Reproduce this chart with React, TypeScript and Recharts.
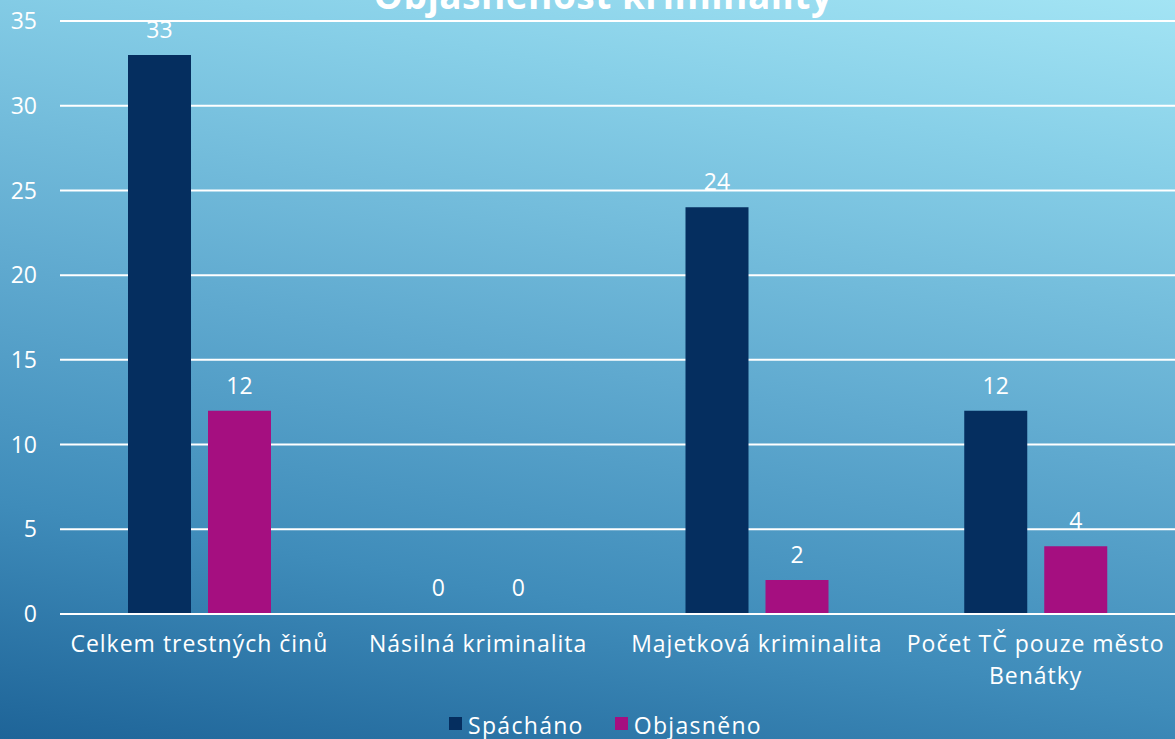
import React from "react";
import {
  BarChart,
  Bar,
  XAxis,
  YAxis,
  CartesianGrid,
  Legend,
  LabelList,
  Rectangle,
} from "recharts";

const categories = [
  "Celkem trestných činů",
  "Násilná kriminalita",
  "Majetková kriminalita",
  "Počet TČ pouze město Benátky",
];
const spachano = [33, 0, 24, 12];
const objasneno = [12, 0, 2, 4];
const yTicks = [0, 5, 10, 15, 20, 25, 30, 35];

const series = [
  { key: "spachano", name: "Spácháno", color: "#052e5f" },
  { key: "objasneno", name: "Objasněno", color: "#a50f80" },
];

const data = categories.map((name, i) => ({
  name,
  spachano: spachano[i],
  objasneno: objasneno[i],
}));

const FONT = "'Open Sans', sans-serif";
const TICK_SIZE = 23;
const TICK_SPACING = 1;

let ctx: CanvasRenderingContext2D | null = null;
function textWidth(s: string) {
  if (!ctx) ctx = document.createElement("canvas").getContext("2d");
  if (!ctx) return s.length * 12;
  ctx.font = `${TICK_SIZE}px ${FONT}`;
  return ctx.measureText(s).width + s.length * TICK_SPACING;
}

function wrap(label: string, maxWidth: number) {
  const lines: string[] = [];
  let cur = "";
  for (const w of label.split(" ")) {
    const next = cur ? cur + " " + w : w;
    if (cur && textWidth(next) > maxWidth) {
      lines.push(cur);
      cur = w;
    } else {
      cur = next;
    }
  }
  if (cur) lines.push(cur);
  return lines;
}

const CategoryTick = (props: any) => {
  const { x, y, payload } = props;
  const lines = wrap(String(payload.value), 272);
  return (
    <text
      x={x}
      y={y}
      textAnchor="middle"
      fill="#ffffff"
      fontSize={TICK_SIZE}
      letterSpacing={TICK_SPACING}
      fontFamily={FONT}
    >
      {lines.map((l, i) => (
        <tspan key={i} x={x} dy={i === 0 ? "0.71em" : 32}>
          {l}
        </tspan>
      ))}
    </text>
  );
};

// zero values still get their label, but no visible sliver of a bar
const BarShape = (props: any) =>
  props.height < 1.5 ? <g /> : <Rectangle {...props} />;

const ValueLabel = (props: any) => {
  const { x, y, width, value } = props;
  return (
    <text
      x={x + width / 2}
      y={y - 17}
      textAnchor="middle"
      fill="#ffffff"
      fontSize={23}
      fontFamily={FONT}
    >
      {value}
    </text>
  );
};

const LegendContent = () => (
  <div
    style={{
      height: 45,
      boxSizing: "border-box",
      paddingTop: 17,
      paddingLeft: 36,
      display: "flex",
      justifyContent: "center",
      gap: 31,
      fontFamily: FONT,
      fontSize: 23,
      lineHeight: "28px",
      letterSpacing: 1.3,
      color: "#ffffff",
    }}
  >
    {series.map((s) => (
      <span key={s.key} style={{ display: "flex", alignItems: "center" }}>
        <span
          style={{
            width: 13,
            height: 13,
            background: s.color,
            marginRight: 6,
            marginTop: -4,
          }}
        />
        {s.name}
      </span>
    ))}
  </div>
);

export default function App() {
  return (
    <div
      style={{
        position: "absolute",
        left: 0,
        top: 0,
        width: 1175,
        height: 739,
        overflow: "hidden",
        fontFamily: FONT,
        background:
          "linear-gradient(190deg, #a3e4f4 0%, #88d0e8 18%, #5fa9cf 50%, #3f8cba 75%, #1e6498 100%)",
      }}
    >
      <BarChart
        width={1175}
        height={739}
        data={data}
        margin={{ top: 21, right: 0, bottom: 0, left: 0 }}
        barCategoryGap={68}
        barGap={17}
      >
        <text
          x={603}
          y={9}
          textAnchor="middle"
          fill="#ffffff"
          fontSize={37}
          fontWeight="bold"
          letterSpacing={0.5}
          fontFamily={FONT}
        >
          Objasněnost kriminality
        </text>
        <CartesianGrid vertical={false} stroke="#ffffff" strokeWidth={2} />
        <XAxis
          dataKey="name"
          height={80}
          tickLine={false}
          tickSize={0}
          tickMargin={22}
          axisLine={{ stroke: "#ffffff", strokeWidth: 2 }}
          tick={<CategoryTick />}
          interval={0}
        />
        <YAxis
          width={60}
          domain={[0, 35]}
          ticks={yTicks}
          axisLine={false}
          tickLine={false}
          tickSize={0}
          tickMargin={23}
          tick={{ fill: "#ffffff", fontSize: 23, fontFamily: FONT }}
        />
        <Legend verticalAlign="bottom" content={<LegendContent />} />
        {series.map((s) => (
          <Bar
            key={s.key}
            dataKey={s.key}
            name={s.name}
            fill={s.color}
            minPointSize={1}
            shape={BarShape}
            isAnimationActive={false}
          >
            <LabelList dataKey={s.key} content={ValueLabel} />
          </Bar>
        ))}
      </BarChart>
    </div>
  );
}
